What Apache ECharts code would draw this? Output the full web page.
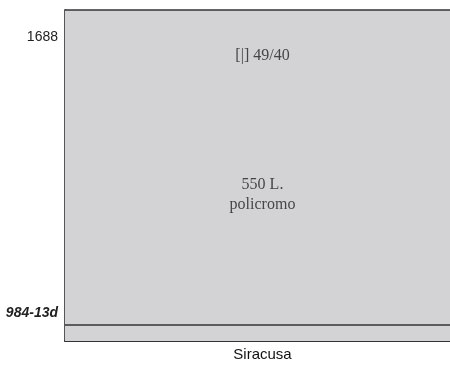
<!DOCTYPE html>
<html><head><meta charset="utf-8">
<script src="https://cdn.jsdelivr.net/npm/echarts@6/dist/echarts.min.js"></script>
<style>html,body{margin:0;padding:0;background:#fff}#c{width:450px;height:365px}</style>
</head><body><div id="c"></div>
<script>
var categories = ['Siracusa'];
var barValues = [12];
var yMin = 0, yMax = 12, yInterval = 1;
var yTickValues = [1, 11];
var yTickLabels = ['984-13d', '1688'];
var annotationTexts = ['[|] 49/40', '550 L.\npolicromo'];
var annotationValues = [10.33, 5.29];
var dividerValue = 0.58;

var chart = echarts.init(document.getElementById('c'), null, {renderer: 'canvas'});
chart.setOption({
  animation: false,
  grid: {left: 65, top: 10, width: 395, height: 331, show: false, outerBoundsMode: 'none', containLabel: false},
  xAxis: {
    type: 'category', data: categories,
    axisLine: {show: true, lineStyle: {color: '#333', width: 2}},
    axisTick: {show: false},
    axisLabel: {color: '#111', fontFamily: 'Liberation Sans, Arial', fontSize: 15, margin: 6}
  },
  yAxis: {
    type: 'value', min: yMin, max: yMax, interval: yInterval,
    splitLine: {show: false}, axisTick: {show: false},
    axisLine: {show: true, lineStyle: {color: '#555', width: 2}},
    axisLabel: {
      margin: 7,
      formatter: function (v) {
        var i = yTickValues.indexOf(v);
        if (i < 0) return '';
        return i === 0 ? '{b|' + yTickLabels[i] + '}' : '{n|' + yTickLabels[i] + '}';
      },
      rich: {
        b: {fontFamily: 'Liberation Sans, Arial', fontSize: 14, fontWeight: 'bold', fontStyle: 'italic', color: '#222'},
        n: {fontFamily: 'Liberation Sans, Arial', fontSize: 14, color: '#222'}
      }
    }
  },
  series: [
    {
      type: 'bar', data: barValues, barWidth: '100%', barGap: '-100%',
      itemStyle: {color: '#d3d3d5', borderWidth: 0},
      markLine: {
        silent: true, symbol: 'none', label: {show: false},
        lineStyle: {color: '#333', width: 1.5, type: 'solid'},
        data: [{yAxis: dividerValue}, {yAxis: yMax}]
      }
    },
    {
      type: 'scatter', symbolSize: 0,
      data: annotationTexts.map(function (t, i) { return {value: [categories[0], annotationValues[i]], name: t}; }),
      label: {
        show: true, position: 'inside', formatter: function (p) { return p.name; },
        fontFamily: 'Liberation Serif, Times New Roman', fontSize: 16, color: '#222', lineHeight: 20, align: 'center'
      }
    }
  ]
});
</script></body></html>
